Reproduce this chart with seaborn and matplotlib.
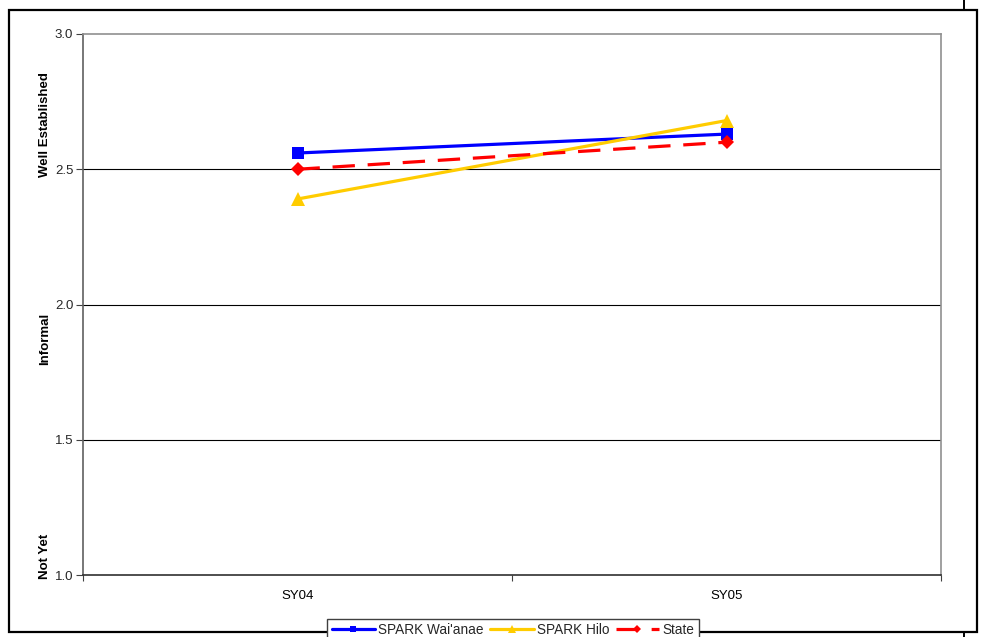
import matplotlib
matplotlib.use("Agg")
import matplotlib.pyplot as plt
from matplotlib.lines import Line2D
from matplotlib.patches import Rectangle
import seaborn as sns
import pandas as pd

# School years and average rubric scores per group
years = ["SY04", "SY05"]
waianae = [2.56, 2.63]
hilo = [2.39, 2.68]
state = [2.50, 2.60]

series_names = ["SPARK Wai'anae", "SPARK Hilo", "State"]
series_values = [waianae, hilo, state]
series_colors = ["#0000FF", "#FFCC00", "#FF0000"]
series_markers = ["s", "^", "D"]
series_styles = ["-", "-", (0, (7, 4))]

y_ticks = [1.0, 1.5, 2.0, 2.5, 3.0]
level_labels = ["Well Established", "Informal", "Not Yet"]

sns.set_theme(style="white")
plt.rcParams["font.family"] = ["Liberation Sans", "DejaVu Sans"]

W, H = 982, 637
fig = plt.figure(figsize=(W / 100, H / 100), dpi=100)
fig.patch.set_facecolor("white")

# plot area in pixel coordinates
left, top, right, bottom = 83, 34, 941, 575
ax = fig.add_axes([left / W, 1 - bottom / H, (right - left) / W, (bottom - top) / H])
ax.set_facecolor("white")

rows = []
for name, vals in zip(series_names, series_values):
    for i, v in enumerate(vals):
        rows.append({"series": name, "pos": i, "score": v})
df = pd.DataFrame(rows)

for name, color, marker, ls in zip(series_names, series_colors, series_markers, series_styles):
    sub = df[df["series"] == name]
    ms = 8.5 if marker == "s" else (9.5 if marker == "^" else 7.5)
    sns.lineplot(data=sub, x="pos", y="score", ax=ax, color=color, marker=marker,
                 markersize=ms, markeredgewidth=0, linewidth=2.3, linestyle=ls,
                 label=name, zorder=3)

handles, labels = ax.get_legend_handles_labels()
if ax.get_legend() is not None:
    ax.get_legend().remove()

# axes limits and ticks
ax.set_xlim(-0.5, 1.5)
ax.set_ylim(1.0, 3.0)
ax.set_xticks([0, 1])
ax.set_xticklabels(years)
ax.set_xticks([-0.5, 0.5, 1.5], minor=True)
ax.tick_params(axis="x", which="major", length=0, pad=11, labelsize=9.5, colors="black")
ax.tick_params(axis="x", which="minor", length=4, width=0.8, direction="out",
               color="#404040", bottom=True)
ax.set_yticks(y_ticks)
ax.set_yticklabels([f"{t:.1f}" for t in y_ticks])
ax.tick_params(axis="y", which="major", length=5, width=0.8, direction="out",
               pad=2, labelsize=9.5, color="#404040", left=True)
ax.set_xlabel("")
ax.set_ylabel("")

for y in [1.5, 2.0, 2.5]:
    ax.axhline(y, color="black", linewidth=0.8, zorder=1)

for side in ["top", "right"]:
    ax.spines[side].set_color("#909090")
    ax.spines[side].set_linewidth(1.2)
ax.spines["left"].set_color("#606060")
ax.spines["left"].set_linewidth(1.2)
ax.spines["bottom"].set_color("#303030")
ax.spines["bottom"].set_linewidth(1.2)
for s in ax.spines.values():
    s.set_visible(True)

# rotated level labels along the value axis
for text, yp in zip(level_labels, [125, 339, 556]):
    fig.text(45 / W, 1 - yp / H, text, rotation=90, ha="center", va="center",
             fontsize=9.5, fontweight="bold", color="black")

# outer chart border
fig.add_artist(Rectangle((9 / W, 1 - 632 / H), (977 - 9) / W, (632 - 10) / H,
                         transform=fig.transFigure, fill=False, edgecolor="black",
                         linewidth=1.6, zorder=0))
fig.add_artist(Line2D([964 / W, 964 / W], [1, 1 - 10 / H], transform=fig.transFigure,
                      color="black", linewidth=1.4))
fig.add_artist(Line2D([964 / W, 964 / W], [1 - 632 / H, 0], transform=fig.transFigure,
                      color="black", linewidth=1.4))

leg = fig.legend(handles, labels, loc="upper center", bbox_to_anchor=(513 / W, 1 - 619 / H),
                 ncol=3, fontsize=9.8, frameon=True, fancybox=False, edgecolor="#404040",
                 framealpha=1, handlelength=3.2, handletextpad=0.25, columnspacing=0.45,
                 borderpad=0.3, markerscale=0.55, borderaxespad=0)
leg.get_frame().set_linewidth(1.0)
leg.set_zorder(10)

fig.savefig("out.png", dpi=100, facecolor="white")
